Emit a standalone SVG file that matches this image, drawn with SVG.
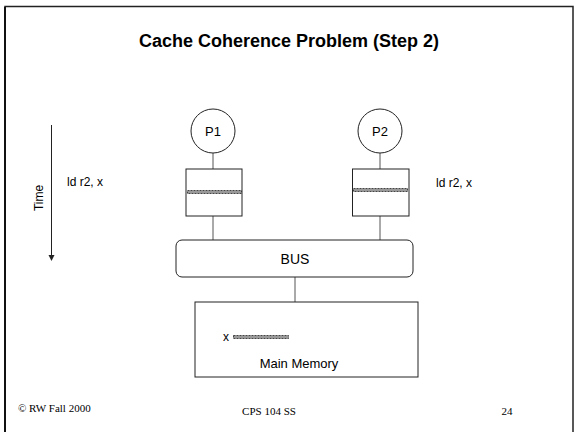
<svg xmlns="http://www.w3.org/2000/svg" width="574" height="432" viewBox="0 0 574 432">
<style>
.sans{font-family:"Liberation Sans",Arial,sans-serif;fill:#000}
.serif{font-family:"Liberation Serif","Times New Roman",serif;fill:#000}
.shape{fill:#fff;stroke:#222;stroke-width:1}
.conn{stroke:#555;stroke-width:1;fill:none}
.stripe{fill:#999;stroke:#222;stroke-width:0.8;stroke-dasharray:2 1}
</style>
<rect x="0" y="0" width="574" height="432" fill="#fff"/>
<path d="M5,440 V6.5 H573 V440" fill="none" stroke="#222" stroke-width="1.5"/>
<line x1="5" y1="7" x2="5" y2="432" stroke="#111" stroke-width="2"/>
<text class="sans" x="289" y="47" font-size="18" font-weight="bold" text-anchor="middle">Cache Coherence Problem (Step 2)</text>
<g id="connectors">
<line class="conn" x1="213" y1="153" x2="213" y2="169"/>
<line class="conn" x1="380" y1="153" x2="380" y2="169"/>
<line class="conn" x1="213" y1="216" x2="213" y2="240"/>
<line class="conn" x1="380" y1="216" x2="380" y2="240"/>
<line class="conn" x1="295" y1="277" x2="295" y2="302"/>
</g>
<g id="p1">
<circle class="shape" cx="213" cy="131" r="22"/>
<text class="sans" x="213" y="136" font-size="13" text-anchor="middle">P1</text>
</g>
<g id="p2">
<circle class="shape" cx="380" cy="131" r="22"/>
<text class="sans" x="380" y="136" font-size="13" text-anchor="middle">P2</text>
</g>
<g id="cache1">
<rect class="shape" x="186" y="169" width="56" height="47"/>
<rect class="stripe" x="187.5" y="190.5" width="54" height="3"/>
</g>
<g id="cache2">
<rect class="shape" x="352.5" y="169" width="56.5" height="47"/>
<rect class="stripe" x="353.5" y="188.5" width="54" height="3"/>
</g>
<g id="bus">
<rect class="shape" x="176" y="240" width="237" height="37" rx="6"/>
<text class="sans" x="295" y="264" font-size="14" text-anchor="middle">BUS</text>
</g>
<g id="memory">
<rect class="shape" x="195" y="302" width="223" height="75"/>
<text class="sans" x="226" y="341" font-size="12" text-anchor="middle">x</text>
<rect class="stripe" x="233.5" y="335.5" width="55" height="3"/>
<text class="sans" x="299" y="368" font-size="13" text-anchor="middle">Main Memory</text>
</g>
<g id="time">
<line x1="51.5" y1="125" x2="51.5" y2="256" stroke="#222" stroke-width="1"/>
<path d="M48.5,255 L54.5,255 L51.5,261 Z" fill="#222"/>
<text class="sans" x="0" y="0" font-size="12" text-anchor="middle" transform="translate(43,198) rotate(-90)">Time</text>
</g>
<text class="sans" x="67" y="186" font-size="12">ld r2, x</text>
<text class="sans" x="436" y="187" font-size="12">ld r2, x</text>
<text class="serif" x="18" y="412" font-size="11">© RW Fall 2000</text>
<text class="serif" x="269" y="415" font-size="11" text-anchor="middle">CPS 104 SS</text>
<text class="serif" x="507" y="415" font-size="11" text-anchor="middle">24</text>
</svg>
